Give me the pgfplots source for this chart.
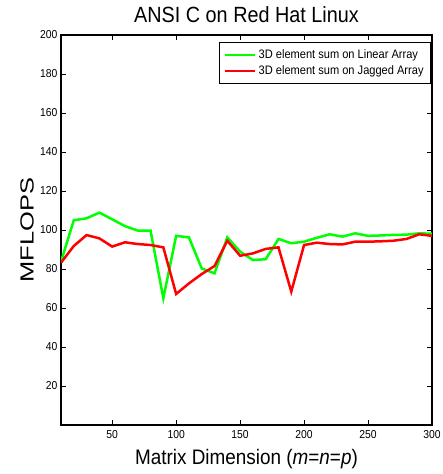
\documentclass[border=0pt]{standalone}
\usepackage{fontspec}
\setmainfont{Liberation Sans}[FakeStretch=0.9]
\newfontfamily\ylfont{Liberation Sans}[FakeStretch=1.34]
\usepackage{pgfplots}
\pgfplotsset{compat=1.18}
\usepackage{pgfplotstable}
\definecolor{mgreen}{RGB}{0,255,0}
\definecolor{mred}{RGB}{255,0,0}
\pgfplotstableread{
x y
10 83.7
20 105
30 106
40 108.9
50 105.5
60 102
70 99.7
80 99.7
90 65
100 97
110 96.2
120 80.3
130 77.8
140 96.2
150 88.9
160 84.6
170 85
180 95.4
190 93.2
200 94.0
210 96
220 97.8
230 96.6
240 98.3
250 97
260 97.2
270 97.5
280 97.6
290 98.3
300 98.1
}\linear
\pgfplotstableread{
x y
10 83.2
20 91.8
30 97.4
40 95.7
50 91.5
60 93.7
70 92.8
80 92.3
90 91.1
100 67.2
110 72.6
120 77.4
130 81.5
140 94.5
150 86.8
160 88
170 90.3
180 91.1
190 68.4
200 92.3
210 93.5
220 92.8
230 92.6
240 94
250 94
260 94.2
270 94.5
280 95.4
290 97.8
300 97
}\jagged
\begin{document}
\begin{tikzpicture}
\begin{axis}[
  at={(0,0)}, anchor=south west,
  scale only axis,
  width=371pt, height=390pt,
  xmin=10, xmax=300, ymin=0, ymax=200,
  xtick={50,100,150,200,250,300},
  ytick={20,40,60,80,100,120,140,160,180,200},
  tick align=inside,
  major tick length=5pt,
  axis line style={line width=1.4pt, black},
  every tick/.style={black, line width=0.8pt},
  /pgf/number format/assume math mode=true,
  tick label style={font=\fontsize{11.5}{13}\selectfont},
  xticklabel style={yshift=-2pt},
  title={ANSI C on Red Hat Linux},
  title style={font=\fontsize{22}{26}\selectfont, at={(axis description cs:0.5,1.0162)}, anchor=base},
  xlabel={Matrix Dimension (\textit{m}=\textit{n}=\textit{p})},
  xlabel style={font=\fontsize{21}{25}\selectfont, at={(axis description cs:0.5,-0.1025)}, anchor=base},
  ylabel={MFLOPS},
  ylabel style={font=\ylfont\fontsize{19}{22}\selectfont, at={(axis description cs:-0.0916,0.5)}, anchor=center},
  legend style={at={(0.997,0.982)}, anchor=north east, draw=black, line width=0.6pt,
    font=\fontsize{12.3}{14}\selectfont, cells={anchor=west}, inner xsep=5pt, inner ysep=5.5pt,
    nodes={inner sep=2pt}, row sep=1.5pt},
  legend image post style={line width=2.5pt},
  legend image code/.code={\draw[#1] (0pt,0pt) -- (30pt,0pt);},
]
\addplot[mgreen, line width=2.5pt] table[x=x,y=y] {\linear};
\addlegendentry{3D element sum on Linear Array}
\addplot[mred, line width=2.5pt] table[x=x,y=y] {\jagged};
\addlegendentry{3D element sum on Jagged Array}
\end{axis}
\pgfresetboundingbox
\useasboundingbox (-61pt,-49pt) rectangle (381pt,425pt);
\end{tikzpicture}
\end{document}
